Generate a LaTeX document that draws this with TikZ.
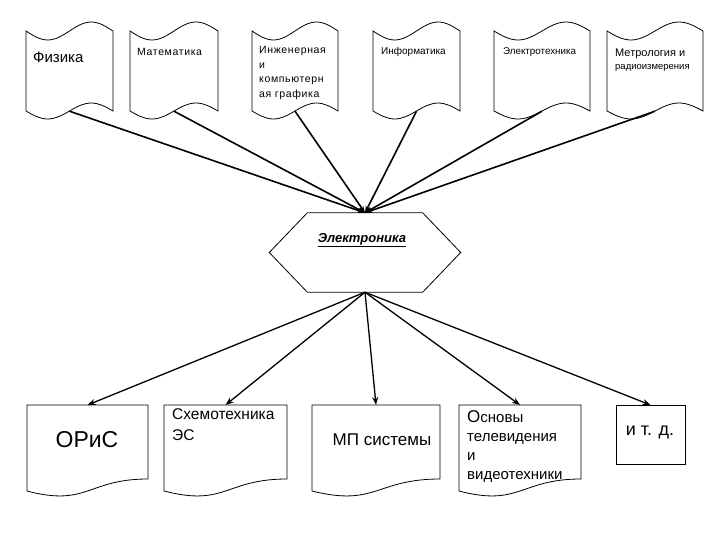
\documentclass[tikz,border=0pt]{standalone}
\usepackage{fontspec}
\setmainfont{Liberation Sans}
\usetikzlibrary{arrows.meta}
\newcommand{\fsz}[2]{\fontsize{#1}{#2}\selectfont}
\newcommand{\tapeshape}[2]{% #1 x0, #2 width
  \draw[outline] (#1,31) sin ++(#2/4,9) cos ++(#2/4,-9) sin ++(#2/4,-9) cos ++(#2/4,9)
    -- ++(0,80) sin ++(-#2/4,-8) cos ++(-#2/4,8) sin ++(-#2/4,8) cos ++(-#2/4,-8) -- cycle;}
\newcommand{\docshape}[2]{% #1 x0, #2 width
  \draw[outline] (#1,405) -- (#1+#2,405) -- (#1+#2,479)
    .. controls (#1+#2/2,479) and (#1+#2/2,507) .. (#1,491) -- cycle;}
\begin{document}
\begin{tikzpicture}[x=1pt,y=-1pt,
  outline/.style={draw=black,line width=0.8pt},
  tapebox/.style={minimum height=80pt,inner sep=0pt,draw=none},
  docbox/.style={minimum height=74pt,inner sep=0pt,draw=none,anchor=north},
  lbl/.style={inner sep=0pt,anchor=north west,align=left},
  upline/.style={line width=1.6pt,-{Stealth[length=7pt,width=5pt]}},
  downline/.style={line width=1.3pt,-{Stealth[length=8pt,width=6pt]}}]
\useasboundingbox[fill=white] (0,0) rectangle (720,540);

% top tapes
\tapeshape{26}{87}  \node[tapebox,minimum width=87pt] (fiz) at (69.5,71) {};
\tapeshape{130}{88} \node[tapebox,minimum width=88pt] (mat) at (174,71) {};
\tapeshape{252}{86} \node[tapebox,minimum width=86pt] (ing) at (295,71) {};
\tapeshape{373}{87} \node[tapebox,minimum width=87pt] (inf) at (416.5,71) {};
\tapeshape{494}{96} \node[tapebox,minimum width=96pt] (etx) at (542,71) {};
\tapeshape{607}{96} \node[tapebox,minimum width=96pt] (met) at (655,71) {};

\node[inner sep=0pt,anchor=west,font=\fsz{15}{17}] (tfiz) at (33,57) {Физика};
\node[inner sep=0pt,anchor=west,font=\fsz{10.5}{12}\addfontfeatures{LetterSpace=6}] (tmat) at (137,52) {Математика};
\node[lbl,font=\fsz{10.5}{14.7}\addfontfeatures{LetterSpace=6}] (ting) at (259,46) {Инженерная\\и\\компьютерн\\ая графика};
\node[inner sep=0pt,anchor=west,font=\fsz{10}{12}] (tinf) at (381,52) {Информатика};
\node[inner sep=0pt,anchor=west,font=\fsz{9.8}{12}] (tetx) at (503,52) {Электротехника};
\node[inner sep=0pt,anchor=west,font=\fsz{11}{13}] (tmet1) at (615,54) {Метрология и};
\node[inner sep=0pt,anchor=west,font=\fsz{9.5}{12}] (tmet2) at (615,68) {радиоизмерения};

% central hexagon
\node[minimum width=191pt,minimum height=79pt,inner sep=0pt,draw=none] (el) at (365,252.5) {};
\draw[outline] (el.west) -- ([xshift=38pt]el.north west) -- ([xshift=-38pt]el.north east)
  -- (el.east) -- ([xshift=-38pt]el.south east) -- ([xshift=38pt]el.south west) -- cycle;
\node[inner sep=0pt,font=\fsz{13}{15}\bfseries\itshape] (tel) at (362,240) {\underline{Электроника}};

\foreach \s in {fiz,mat,ing,inf,etx,met} \draw[upline] (\s.south) -- (el.north);

% bottom documents
\docshape{27}{121}  \node[docbox,minimum width=121pt] (oris) at (87.5,405) {};
\docshape{164}{123} \node[docbox,minimum width=123pt] (shem) at (225.5,405) {};
\docshape{312}{128} \node[docbox,minimum width=128pt] (mp) at (376,405) {};
\docshape{459}{122} \node[docbox,minimum width=122pt] (osn) at (520,405) {};
\node[draw=black,line width=0.8pt,minimum width=69pt,minimum height=59pt,inner sep=0pt,anchor=north] (itd) at (650.5,405) {};

\node[inner sep=0pt,font=\fsz{23}{26}] (toris) at (87,440) {ОРиС};
\node[lbl,font=\fsz{15.5}{21}] (tshem) at (172,408) {Схемотехника\\ЭС};
\node[inner sep=0pt,font=\fsz{17}{20}] (tmp) at (382,440) {МП системы};
\node[lbl,font=\fsz{15}{19}] (tosn) at (467,410) {{\fsz{17}{19}О}сновы\\телевидения\\и\\видеотехники};
\node[inner sep=0pt,font=\fsz{18}{20}] (titd) at (650,433) {и т. д.};

\foreach \t in {oris,shem,mp,osn,itd} \draw[downline] (el.south) -- (\t.north);
\end{tikzpicture}
\end{document}
